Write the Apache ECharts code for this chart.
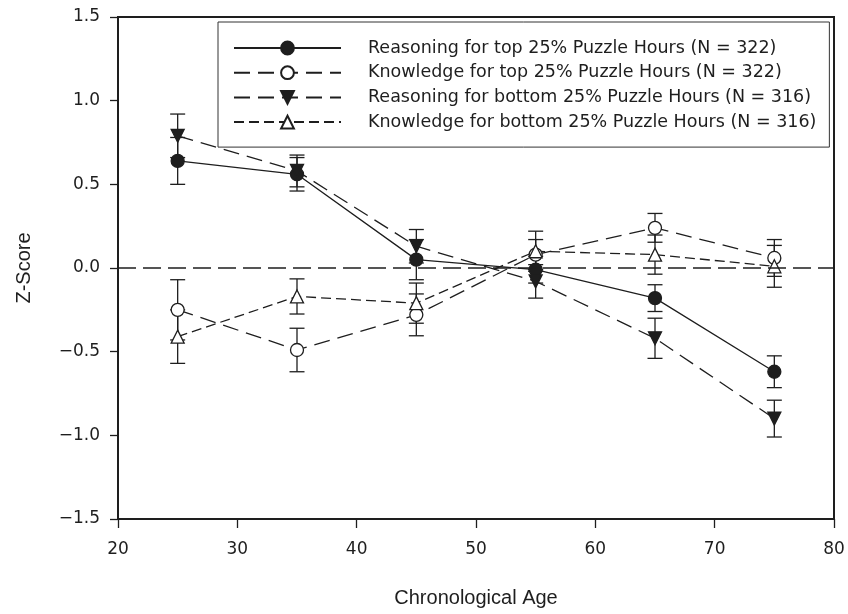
<!DOCTYPE html>
<html>
<head>
<meta charset="utf-8">
<script src="https://cdn.jsdelivr.net/npm/echarts@6/dist/echarts.min.js"></script>
<style>html,body{margin:0;padding:0;background:#fff}#c{width:848px;height:614px}</style>
</head>
<body>
<div id="c"></div>
<script>
var ages = [25, 35, 45, 55, 65, 75];
var reasonTop = [0.64, 0.56, 0.05, -0.01, -0.18, -0.62];
var reasonTopErr = [0.14, 0.10, 0.12, 0.08, 0.08, 0.095];
var knowTop = [-0.25, -0.49, -0.28, 0.08, 0.24, 0.06];
var knowTopErr = [0.18, 0.13, 0.125, 0.09, 0.086, 0.11];
var reasonBot = [0.79, 0.58, 0.13, -0.08, -0.42, -0.90];
var reasonBotErr = [0.13, 0.095, 0.10, 0.10, 0.12, 0.11];
var knowBot = [-0.41, -0.17, -0.21, 0.10, 0.08, 0.01];
var knowBotErr = [0.16, 0.105, 0.12, 0.12, 0.117, 0.125];
var seriesNames = [
  'Reasoning for top 25% Puzzle Hours (N = 322)',
  'Knowledge for top 25% Puzzle Hours (N = 322)',
  'Reasoning for bottom 25% Puzzle Hours (N = 316)',
  'Knowledge for bottom 25% Puzzle Hours (N = 316)'
];
var yTicks = [-1.5, -1.0, -0.5, 0.0, 0.5, 1.0, 1.5];

var INK = '#1e1e1e';
var LABEL_FONT = 'DejaVu Sans, Liberation Sans, sans-serif';
function pts(vals) { return ages.map(function (a, i) { return [a, vals[i]]; }); }
function errPts(vals, errs) { return ages.map(function (a, i) { return [a, vals[i] - errs[i], vals[i] + errs[i]]; }); }
function errSeries(vals, errs) {
  return {
    type: 'custom', silent: true, z: 1,
    data: errPts(vals, errs),
    encode: { x: 0, y: [1, 2] },
    renderItem: function (params, api) {
      var lo = api.coord([api.value(0), api.value(1)]);
      var hi = api.coord([api.value(0), api.value(2)]);
      var w = 7.5;
      var st = { stroke: INK, lineWidth: 1.3, fill: null };
      return { type: 'group', children: [
        { type: 'line', shape: { x1: lo[0], y1: lo[1], x2: hi[0], y2: hi[1] }, style: st },
        { type: 'line', shape: { x1: lo[0] - w, y1: lo[1], x2: lo[0] + w, y2: lo[1] }, style: st },
        { type: 'line', shape: { x1: hi[0] - w, y1: hi[1], x2: hi[0] + w, y2: hi[1] }, style: st }
      ]};
    }
  };
}
function lineSeries(name, vals, symbol, rot, filled, dash, size) {
  return {
    name: name, type: 'line', z: 3,
    data: pts(vals),
    symbol: symbol, symbolSize: size, symbolRotate: rot,
    showAllSymbol: true,
    lineStyle: { color: INK, width: 1.3, type: dash },
    itemStyle: { color: filled ? INK : '#fff', borderColor: INK, borderWidth: 1.3 },
    emphasis: { disabled: true },
    animation: false
  };
}

var s1 = lineSeries(seriesNames[0], reasonTop, 'circle', 0, true, 'solid', 13);
s1.markLine = {
  silent: true, symbol: ['none', 'none'], label: { show: false },
  lineStyle: { color: INK, width: 1.5, type: [18, 7] },
  data: [{ yAxis: 0 }], animation: false
};

var chart = echarts.init(document.getElementById('c'), null, { renderer: 'canvas' });
chart.setOption({
  animation: false,
  backgroundColor: '#fff',
  textStyle: { fontFamily: 'Liberation Sans, Arial, sans-serif' },
  grid: { left: 118, right: 14, top: 17, bottom: 95, show: true, borderColor: INK, borderWidth: 2, backgroundColor: 'transparent' },
  legend: {
    orient: 'vertical', left: 218, top: 22,
    padding: [17, 13, 16, 15],
    borderColor: '#333', borderWidth: 1, backgroundColor: '#fff',
    itemWidth: 107, itemHeight: 16, itemGap: 6.7,
    data: seriesNames,
    textStyle: { fontSize: 17.5, lineHeight: 16, color: INK, padding: [0, 0, 0, 22], fontFamily: LABEL_FONT },
    selectedMode: false
  },
  xAxis: {
    type: 'value', min: 20, max: 80, interval: 10,
    name: 'Chronological Age', nameLocation: 'middle', nameGap: 69,
    nameTextStyle: { fontSize: 20, color: INK },
    axisLine: { show: true, onZero: false, lineStyle: { color: INK, width: 2 } },
    axisTick: { show: true, inside: false, length: 9, lineStyle: { color: INK, width: 1.3 } },
    axisLabel: { fontSize: 17, color: INK, margin: 22, fontFamily: LABEL_FONT },
    splitLine: { show: false }
  },
  yAxis: {
    type: 'value', min: -1.5, max: 1.5, interval: 0.5,
    name: 'Z-Score', nameLocation: 'middle', nameGap: 84,
    nameTextStyle: { fontSize: 20, color: INK },
    axisLine: { show: true, onZero: false, lineStyle: { color: INK, width: 2 } },
    axisTick: { show: true, inside: false, length: 8, lineStyle: { color: INK, width: 1.3 } },
    axisLabel: { fontSize: 17, color: INK, margin: 18, fontFamily: LABEL_FONT,
      formatter: function (v) {
        var t = yTicks.reduce(function (b, x) { return Math.abs(x - v) < Math.abs(b - v) ? x : b; }, yTicks[0]);
        var s = Math.abs(t).toFixed(1);
        return t < 0 ? '\u2212' + s : s;
      } },
    splitLine: { show: false }
  },
  series: [
    errSeries(reasonTop, reasonTopErr),
    errSeries(knowTop, knowTopErr),
    errSeries(reasonBot, reasonBotErr),
    errSeries(knowBot, knowBotErr),
    s1,
    lineSeries(seriesNames[1], knowTop, 'circle', 0, false, [16, 8], 13),
    lineSeries(seriesNames[2], reasonBot, 'triangle', 180, true, [16, 8], 13),
    lineSeries(seriesNames[3], knowBot, 'triangle', 0, false, [10, 5], 13)
  ]
});
</script>
</body>
</html>
